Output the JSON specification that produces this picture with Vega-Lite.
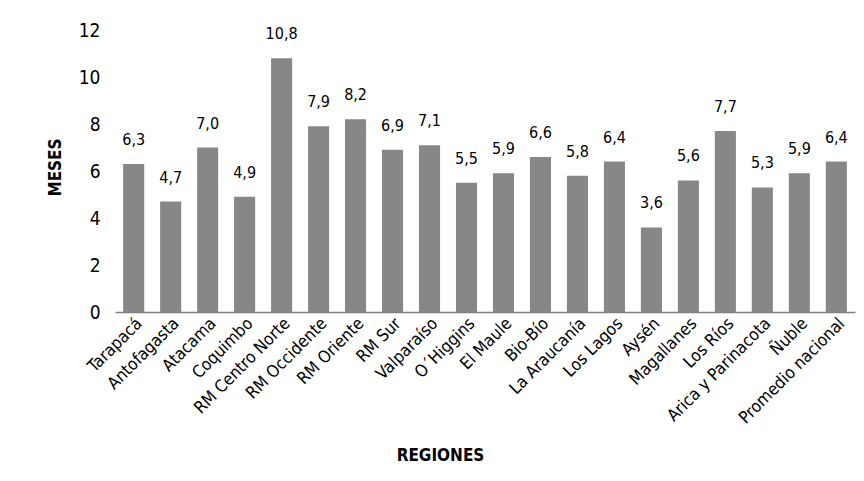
{
  "$schema": "https://vega.github.io/schema/vega-lite/v6.json",
  "width": 740,
  "height": 282,
  "autosize": {"type": "none"},
  "padding": {"left": 115, "top": 30, "right": 9, "bottom": 169},
  "background": "white",
  "config": {
    "locale": {"number": {"decimal": ",", "thousands": ".", "grouping": [3], "currency": ["$", ""]}},
    "view": {"stroke": null},
    "font": "Liberation Sans Narrow, DejaVu Sans Condensed, sans-serif"
  },
  "data": {
    "values": [
      {"region": "Tarapacá", "meses": 6.3},
      {"region": "Antofagasta", "meses": 4.7},
      {"region": "Atacama", "meses": 7.0},
      {"region": "Coquimbo", "meses": 4.9},
      {"region": "RM Centro Norte", "meses": 10.8},
      {"region": "RM Occidente", "meses": 7.9},
      {"region": "RM Oriente", "meses": 8.2},
      {"region": "RM Sur", "meses": 6.9},
      {"region": "Valparaíso", "meses": 7.1},
      {"region": "O´Higgins", "meses": 5.5},
      {"region": "El Maule", "meses": 5.9},
      {"region": "Bio-Bío", "meses": 6.6},
      {"region": "La Araucanía", "meses": 5.8},
      {"region": "Los Lagos", "meses": 6.4},
      {"region": "Aysén", "meses": 3.6},
      {"region": "Magallanes", "meses": 5.6},
      {"region": "Los Ríos", "meses": 7.7},
      {"region": "Arica y Parinacota", "meses": 5.3},
      {"region": "Ñuble", "meses": 5.9},
      {"region": "Promedio nacional", "meses": 6.4}
    ]
  },
  "encoding": {
    "x": {
      "field": "region", "type": "nominal", "sort": null,
      "scale": {"paddingInner": 0.43, "paddingOuter": 0.22},
      "axis": {
        "title": "REGIONES", "titleFontSize": 17, "titleFontWeight": "bold", "titleColor": "#000",
        "titleX": 325, "titleY": 143, "titleBaseline": "middle", "titleAlign": "center",
        "labelAngle": -45, "labelFontSize": 17, "labelColor": "#000", "labelPadding": 3,
        "ticks": false, "domainColor": "#808080", "domainWidth": 1.5
      }
    },
    "y": {
      "field": "meses", "type": "quantitative",
      "scale": {"domain": [0, 12]},
      "axis": {
        "title": "MESES", "titleFontSize": 17, "titleFontWeight": "bold", "titleColor": "#000",
        "titleX": -60, "titleY": 137, "titleAngle": 270, "titleBaseline": "middle", "titleAlign": "center",
        "values": [0, 2, 4, 6, 8, 10, 12], "labelFontSize": 19, "labelColor": "#000", "labelPadding": 15,
        "ticks": false, "domain": false, "grid": false
      }
    }
  },
  "layer": [
    {"mark": {"type": "bar", "color": "#878787"}},
    {
      "mark": {"type": "text", "baseline": "alphabetic", "dy": -19, "fontSize": 16, "color": "#000"},
      "encoding": {"text": {"field": "meses", "type": "quantitative", "format": ".1f"}}
    }
  ]
}
